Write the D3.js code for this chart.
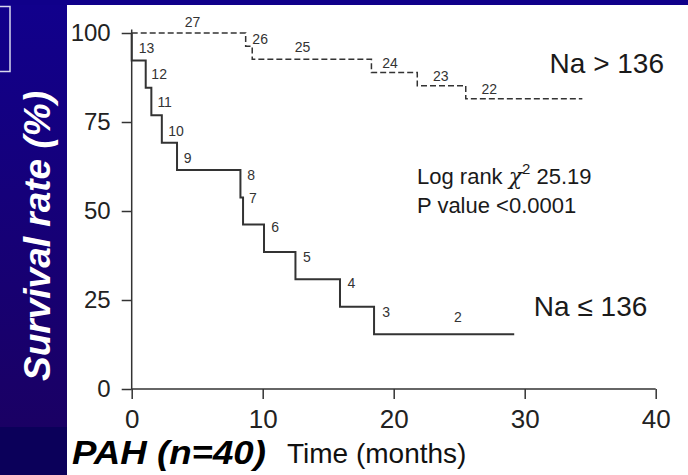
<!DOCTYPE html>
<html><head><meta charset="utf-8">
<script src="https://cdn.jsdelivr.net/npm/d3@7"></script>
<style>html,body{margin:0;padding:0;background:#10008a;overflow:hidden}svg{display:block}</style>
</head><body><svg id="c" width="688" height="475"></svg>
<script>
// ---- data ----
const xTicks = [0, 10, 20, 30, 40];
const yTicks = [0, 25, 50, 75, 100];

// Na > 136 (dashed), n = 27
const hiTimes = [0, 8.7, 9.2, 18.3, 21.8, 25.5, 34.4];
const hiSurv  = [100, 96.3, 92.6, 88.9, 85.2, 81.5, 81.5];
const hiRisk  = ["27", "26", "25", "24", "23", "22"];
const hiRiskT = [4.05, 9.21, 12.44, 19.13, 23.0, 26.7];
const hiRiskV = [101.6, 97.0, 94.7, 90.1, 86.5, 82.9];

// Na <= 136 (solid), n = 13
const loTimes = [0, 0, 1.07, 1.5, 2.3, 3.46, 8.3, 8.5, 10.1, 12.5, 15.9, 18.5, 29.2];
const loSurv  = [100, 92.3, 84.6, 76.9, 69.2, 61.5, 53.8, 46.2, 38.5, 30.8, 23.1, 15.4, 15.4];
const loRisk  = ["13", "12", "11", "10", "9", "8", "7", "6", "5", "4", "3", "2"];
const loRiskT = [0.53, 1.50, 1.96, 2.79, 3.97, 8.83, 8.95, 10.66, 13.08, 16.47, 19.12, 24.6];
const loRiskV = [94.5, 87.1, 79.3, 71.1, 63.6, 58.7, 52.2, 44.2, 35.6, 28.3, 20.3, 18.9];

const groupLabels = ["Na > 136", "Na \u2264 136"];
const groupLabelT = [31.9, 30.7];
const groupLabelV = [88.9, 20.5];
const statLines = ["Log rank ", "\u03C7", "2", " 25.19", "P value <0.0001"];
const yTitle = "Survival rate (%)";
const xTitle = "Time (months)";
const cohort = "PAH (n=40)";

// ---- drawing ----
const W = 688, H = 475;
const svg = d3.select("#c");
const FONT = "'Liberation Sans', Arial, Helvetica, sans-serif";

const defs = svg.append("defs");
const lg = defs.append("linearGradient").attr("id", "lg").attr("x1", 0).attr("y1", 0).attr("x2", 0).attr("y2", 1);
lg.append("stop").attr("offset", "0").attr("stop-color", "#11008c");
lg.append("stop").attr("offset", "1").attr("stop-color", "#1a0064");

svg.append("rect").attr("width", W).attr("height", H).attr("fill", "#10008a");
svg.append("rect").attr("x", 0).attr("y", 5).attr("width", 67).attr("height", 422).attr("fill", "url(#lg)");
svg.append("rect").attr("x", 0).attr("y", 427).attr("width", 67).attr("height", 48).attr("fill", "#0b005a");
svg.append("rect").attr("x", 67).attr("y", 5).attr("width", W - 67).attr("height", H - 5).attr("fill", "#ffffff");
svg.append("rect").attr("x", -1).attr("y", 6.5).attr("width", 11).attr("height", 65)
  .attr("fill", "none").attr("stroke", "#d8d8ee").attr("stroke-width", 1.5);

const x = d3.scaleLinear().domain([0, 40]).range([131.7, 655.7]);
const y = d3.scaleLinear().domain([0, 100]).range([389, 33]);

// axes
const ax = svg.append("g").attr("transform", `translate(0,${y(0)})`)
  .call(d3.axisBottom(x).tickValues(xTicks).tickSize(10).tickPadding(11));
ax.select(".domain").remove();
ax.selectAll("line").attr("stroke", "#333").attr("stroke-width", 1.5);
ax.selectAll("text").attr("font-family", FONT).attr("font-size", 26).attr("fill", "#222");

const ay = svg.append("g").attr("transform", `translate(${x(0)},0)`)
  .call(d3.axisLeft(y).tickValues(yTicks).tickSize(10).tickPadding(11));
ay.select(".domain").remove();
ay.selectAll("line").attr("stroke", "#333").attr("stroke-width", 1.5);
ay.selectAll("text").attr("font-family", FONT).attr("font-size", 24).attr("fill", "#222");

svg.append("line").attr("x1", x(0)).attr("x2", x(40)).attr("y1", y(0)).attr("y2", y(0))
  .attr("stroke", "#333").attr("stroke-width", 1.5);
svg.append("line").attr("x1", x(0)).attr("x2", x(0)).attr("y1", y(0)).attr("y2", y(101))
  .attr("stroke", "#333").attr("stroke-width", 1.5);

// curves
const step = d3.line().x(d => x(d[0])).y(d => y(d[1])).curve(d3.curveStepAfter);
svg.append("path").datum(hiTimes.map((t, i) => [t, hiSurv[i]]))
  .attr("d", step).attr("fill", "none").attr("stroke", "#333").attr("stroke-width", 1.5)
  .attr("stroke-dasharray", "6,3");
svg.append("path").datum(loTimes.map((t, i) => [t, loSurv[i]]))
  .attr("d", step).attr("fill", "none").attr("stroke", "#333").attr("stroke-width", 2);

// numbers at risk
const riskG = svg.append("g").attr("font-family", FONT).attr("font-size", 14).attr("fill", "#333");
hiRisk.forEach((s, i) => riskG.append("text").attr("x", x(hiRiskT[i])).attr("y", y(hiRiskV[i])).text(s));
loRisk.forEach((s, i) => riskG.append("text").attr("x", x(loRiskT[i])).attr("y", y(loRiskV[i])).text(s));

// group labels
groupLabels.forEach((s, i) => svg.append("text").attr("x", x(groupLabelT[i])).attr("y", y(groupLabelV[i]))
  .attr("font-family", FONT).attr("font-size", 28).attr("fill", "#1a1a1a").text(s));

// stats
const st = svg.append("text").attr("x", 417).attr("y", 184).attr("font-family", FONT)
  .attr("font-size", 22).attr("fill", "#1a1a1a");
st.append("tspan").text(statLines[0]);
st.append("tspan").attr("font-style", "italic").attr("font-family", "'DejaVu Serif', serif").text(statLines[1]);
st.append("tspan").attr("font-size", 15).attr("dy", -10).text(statLines[2]);
st.append("tspan").attr("dy", 10).text(statLines[3]);
svg.append("text").attr("x", 417).attr("y", 213).attr("font-family", FONT)
  .attr("font-size", 22).attr("fill", "#1a1a1a").text(statLines[4]);

// titles
svg.append("text").attr("transform", "translate(50,236) rotate(-90)").attr("text-anchor", "middle")
  .attr("font-family", FONT).attr("font-weight", "bold").attr("font-style", "italic")
  .attr("font-size", 37).attr("fill", "#ffffff").text(yTitle);
svg.append("text").attr("x", 72).attr("y", 464).attr("font-family", FONT).attr("font-weight", "bold")
  .attr("font-style", "italic").attr("font-size", 33).attr("fill", "#000")
  .attr("textLength", 194).attr("lengthAdjust", "spacingAndGlyphs").text(cohort);
svg.append("text").attr("x", 287).attr("y", 463).attr("font-family", FONT)
  .attr("font-size", 28).attr("fill", "#111").text(xTitle);
</script></body></html>
